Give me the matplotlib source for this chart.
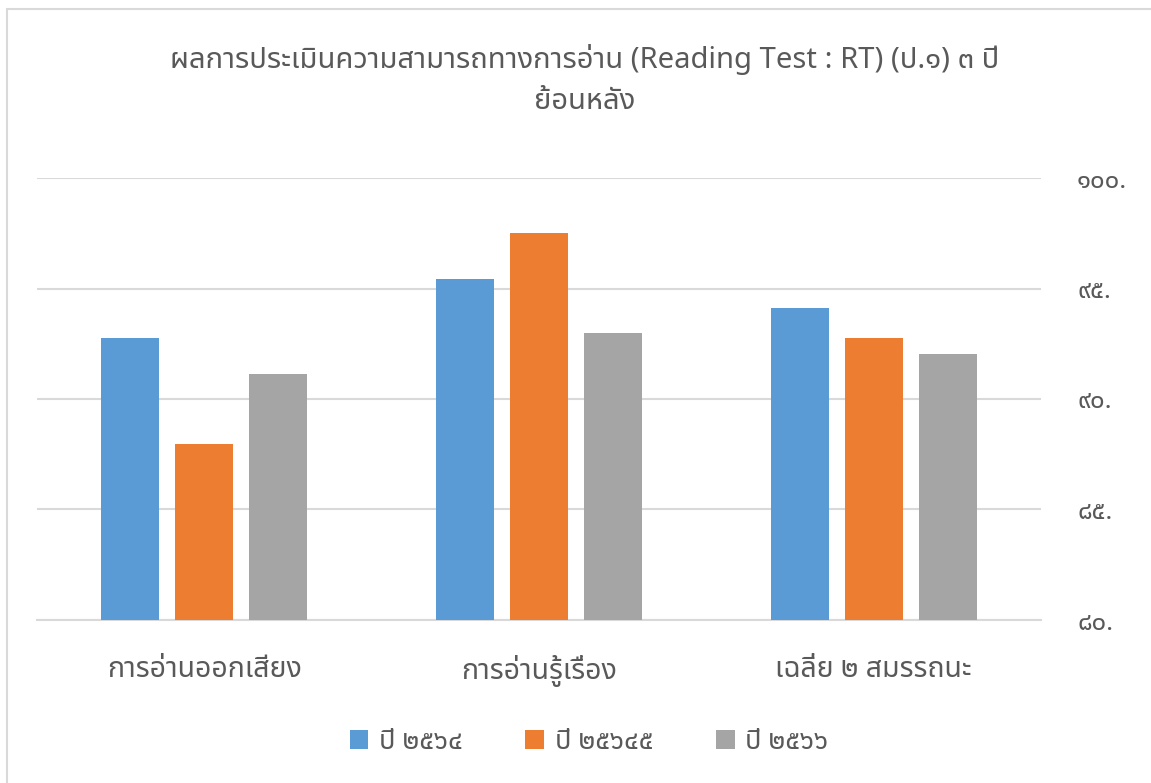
import matplotlib
matplotlib.use('Agg')
import numpy as np
import matplotlib.pyplot as plt
from matplotlib.patches import Rectangle

plt.rcParams['font.family'] = ['Noto Sans Thai', 'DejaVu Sans']

TITLE = 'ผลการประเมินความสามารถทางการอ่าน (Reading Test : RT) (ป.๑) ๓ ปี\nย้อนหลัง'
categories = ['การอ่านออกเสียง', 'การอ่านรู้เรื่อง', 'เฉลี่ย ๒ สมรรถนะ']
series_names = ['ปี ๒๕๖๔', 'ปี ๒๕๖๔๕', 'ปี ๒๕๖๖']
y2564 = [92.74, 95.45, 94.10]
y2565 = [87.97, 97.53, 92.75]
y2566 = [91.12, 92.97, 92.05]
yticks = [80, 85, 90, 95, 100]
ytick_labels = ['๘๐.', '๘๕.', '๙๐.', '๙๕.', '๑๐๐.']

colors = ['#5b9bd5', '#ed7d31', '#a5a5a5']
text_color = '#595959'
grid_color = '#d9d9d9'

W, H = 1151, 783
fig = plt.figure(figsize=(W / 100, H / 100), dpi=100)
ax = fig.add_axes([37 / W, 1 - 620 / H, (1041 - 37) / W, (620 - 178) / H])

x = np.arange(len(categories))
width = 0.174
step = 0.221
for i, (vals, name) in enumerate(zip([y2564, y2565, y2566], series_names)):
    ax.bar(x + (i - 1) * step, vals, width, color=colors[i], label=name, zorder=3)

ax.set_xlim(-0.5, len(categories) - 0.5)
ax.set_ylim(yticks[0], yticks[-1])
ax.set_yticks(yticks)
ax.set_yticklabels(ytick_labels)
ax.yaxis.tick_right()
ax.tick_params(axis='y', length=0, pad=26, labelsize=18.5, labelcolor=text_color)
for lab in ax.get_yticklabels():
    lab.set_horizontalalignment('left')
ax.set_xticks(x)
ax.set_xticklabels(categories)
ax.tick_params(axis='x', length=0, pad=25, labelsize=20.5, labelcolor=text_color)
ax.grid(axis='y', color=grid_color, linewidth=1.5, zorder=0)
for s in ['top', 'left', 'right']:
    ax.spines[s].set_visible(False)
ax.spines['bottom'].set_color(grid_color)
ax.spines['bottom'].set_linewidth(1.5)

fig.text(585 / W, 1 - 80 / H, TITLE, ha='center', va='center', fontsize=21,
         color=text_color, linespacing=1.55)

leg = fig.legend(loc='center', bbox_to_anchor=(589 / W, 1 - 742 / H), ncol=3,
                 frameon=False, fontsize=19.5, handlelength=0.7, handleheight=0.7,
                 handletextpad=0.4, columnspacing=2.3)
for t in leg.get_texts():
    t.set_color(text_color)

fig.patches.append(Rectangle((7 / W, -0.1), 1.2, 1 - 9 / H + 0.1, transform=fig.transFigure,
                             fill=False, edgecolor=grid_color, linewidth=1.5))

fig.savefig('out.png', dpi=100)
